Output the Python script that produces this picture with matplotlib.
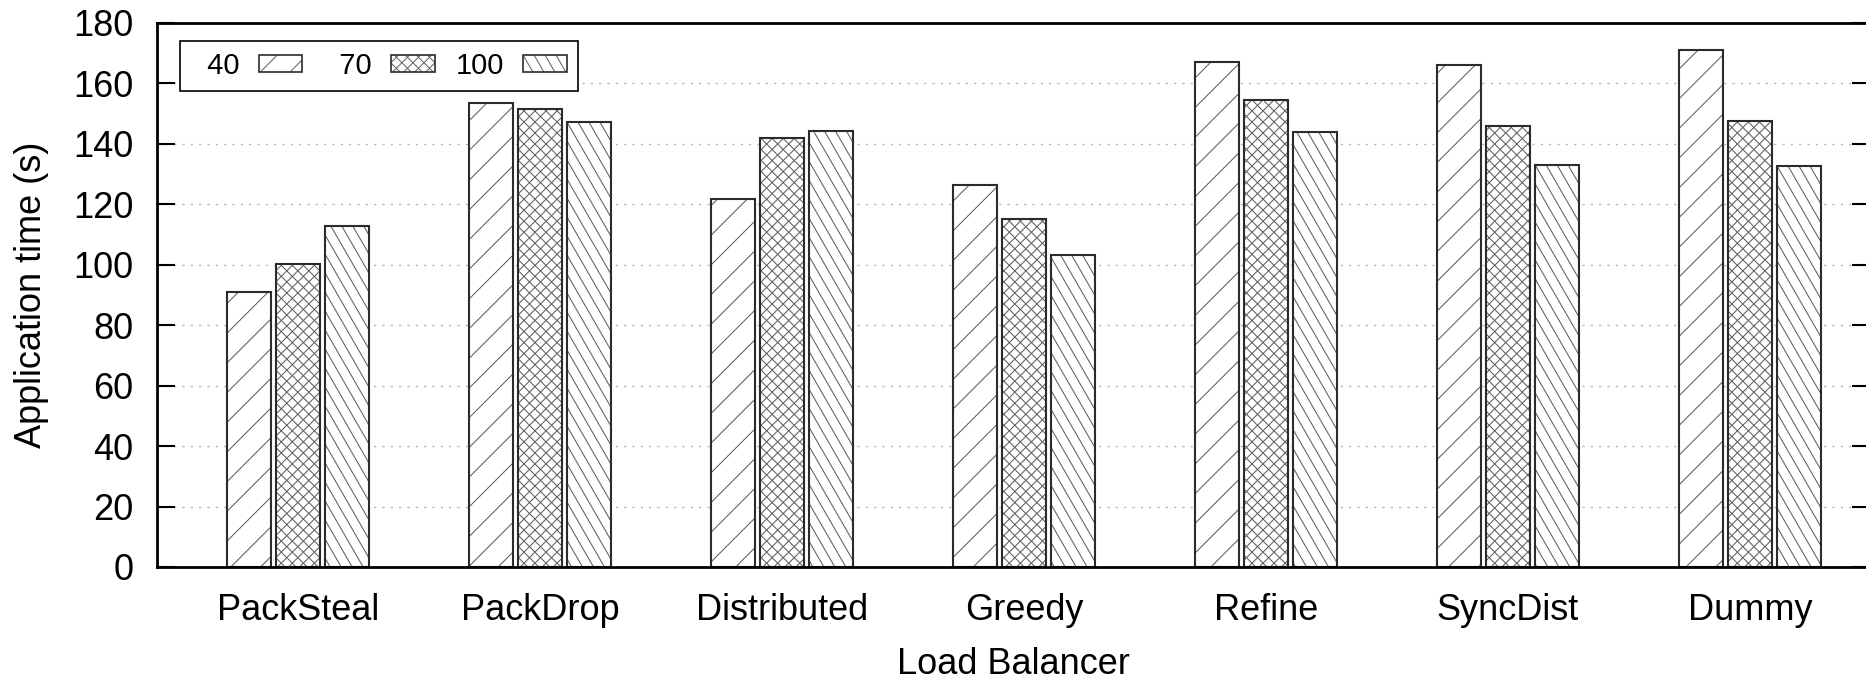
import numpy as np
import matplotlib.pyplot as plt
from matplotlib.collections import LineCollection
from matplotlib.legend_handler import HandlerBase
from matplotlib.patches import Rectangle
from matplotlib.transforms import IdentityTransform

plt.rcParams['font.family'] = ['Liberation Sans', 'DejaVu Sans']

balancers = ["PackSteal", "PackDrop", "Distributed", "Greedy", "Refine", "SyncDist", "Dummy"]
series = ["40", "70", "100"]
time_40 = [91.1, 153.6, 121.9, 126.4, 167.0, 166.2, 171.1]
time_70 = [100.2, 151.4, 142.1, 115.3, 154.5, 145.9, 147.6]
time_100 = [112.8, 147.3, 144.4, 103.2, 143.9, 132.9, 132.6]
yticks = [0, 20, 40, 60, 80, 100, 120, 140, 160, 180]

DPI = 100
EDGE = "#2b2b2b"
HATCH_COLOR = "#5e5e5e"
# (angle in degrees, perpendicular gap in pixels) for each hatch family
patterns = {
    "40": [(45, 21.0)],
    "70": [(45, 7.8), (-45, 7.8)],
    "100": [(-60, 9.5)],
}


def hatch_segments(x0, y0, x1, y1, lines):
    """Parallel line segments covering the box, anchored at the origin."""
    segs = []
    corners = np.array([[x0, y0], [x1, y0], [x0, y1], [x1, y1]])
    centre = np.array([(x0 + x1) / 2, (y0 + y1) / 2])
    half = np.hypot(x1 - x0, y1 - y0)
    for ang, gap in lines:
        a = np.radians(ang)
        d = np.array([np.cos(a), np.sin(a)])
        n = np.array([-np.sin(a), np.cos(a)])
        p = corners @ n
        for k in np.arange(np.floor(p.min() / gap), np.ceil(p.max() / gap) + 1):
            c = k * gap * n
            mid = c + ((centre - c) @ d) * d
            segs.append([mid - half * d, mid + half * d])
    return segs


class HatchHandler(HandlerBase):
    def __init__(self, lines):
        super().__init__()
        self.lines = lines

    def create_artists(self, legend, orig_handle, xdescent, ydescent,
                       width, height, fontsize, trans):
        x0, y0 = -xdescent, -ydescent
        face = Rectangle((x0, y0), width, height, facecolor="white",
                         edgecolor="none", transform=trans)
        scale = 72.0 / DPI
        segs = hatch_segments(x0, y0, x0 + width, y0 + height,
                              [(a, g * scale) for a, g in self.lines])
        lc = LineCollection(segs, colors=HATCH_COLOR, linewidths=0.7,
                            transform=trans)
        lc.set_clip_path(face)
        edge = Rectangle((x0, y0), width, height, fill=False,
                         edgecolor=EDGE, linewidth=1.2, transform=trans)
        return [face, lc, edge]


fig = plt.figure(figsize=(18.66, 6.79), dpi=DPI)
ax = fig.add_axes([157 / 1866, 112 / 679, (1870 - 157) / 1866, 544 / 679])

x = np.arange(len(balancers))
bar_w = 0.18
step = 0.2025
ax.set_xlim(-0.5826, 6.496)
ax.set_ylim(0, 180)

for i, (name, vals) in enumerate(zip(series, [time_40, time_70, time_100])):
    pos = x + (i - 1) * step
    bars = ax.bar(pos, vals, bar_w, color="white", edgecolor="none", zorder=2)
    for rect in bars:
        (px0, py0), (px1, py1) = ax.transData.transform(
            [(rect.get_x(), 0), (rect.get_x() + rect.get_width(), rect.get_height())])
        lc = LineCollection(hatch_segments(px0, py0, px1, py1, patterns[name]),
                            colors=HATCH_COLOR, linewidths=0.75,
                            transform=IdentityTransform(), zorder=2.1)
        ax.add_collection(lc, autolim=False)
        # clip after adding, otherwise the axes patch replaces it
        lc.set_clip_path(rect)
    ax.bar(pos, vals, bar_w, fill=False, edgecolor=EDGE, linewidth=1.5, zorder=2.2)

ax.set_yticks(yticks)
ax.set_xticks(x)
ax.set_xticklabels(balancers)
ax.yaxis.grid(True, color="#b5b5b5", linestyle=(0, (1.5, 4.5)), linewidth=1.0, zorder=0)
ax.set_axisbelow(True)
ax.tick_params(axis="y", direction="in", length=13, width=1.5, labelsize=26,
               pad=17, left=True, right=True)
ax.tick_params(axis="x", length=0, labelsize=26, pad=19)
for sp in ax.spines.values():
    sp.set_linewidth(2.0)
    sp.set_color("black")

ax.set_xlabel("Load Balancer", fontsize=26, labelpad=13.5)
ax.set_ylabel("Application time (s)", fontsize=26, labelpad=17)

# labels right-aligned in equal-width columns
labels = [s.rjust(3, "\u2007") for s in series]
handles = [Rectangle((0, 0), 1, 1) for _ in series]
leg = ax.legend(handles, labels, ncol=3, markerfirst=False,
                loc="upper left", bbox_to_anchor=(180 / 1866, 1 - 40.7 / 679),
                bbox_transform=fig.transFigure, borderaxespad=0,
                fontsize=21, handlelength=1.5, handleheight=0.48,
                handletextpad=0.65, columnspacing=0.72, borderpad=0.38,
                fancybox=False, framealpha=1, edgecolor="black",
                handler_map={h: HatchHandler(patterns[s]) for h, s in zip(handles, series)})
leg.get_frame().set_linewidth(1.2)
leg.set_zorder(5)

fig.savefig("out.png", dpi=DPI)
